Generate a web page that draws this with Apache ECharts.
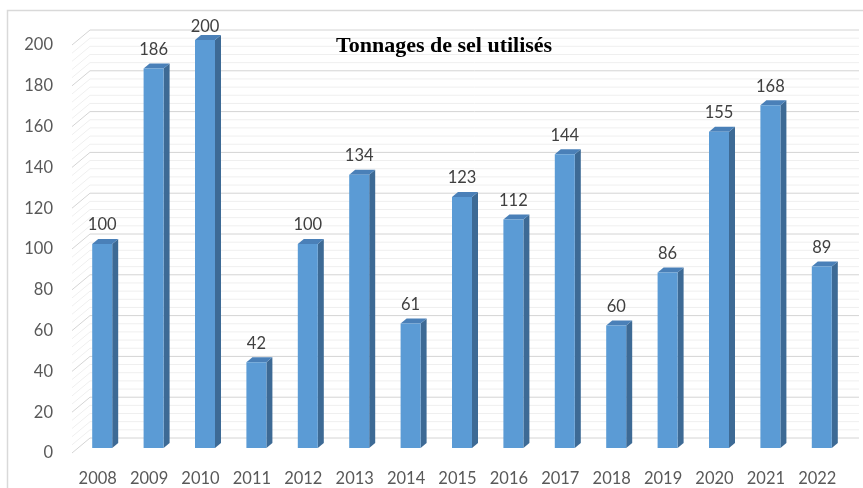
<!DOCTYPE html>
<html>
<head>
<meta charset="utf-8">
<script src="https://cdn.jsdelivr.net/npm/echarts@6/dist/echarts.min.js"></script>
<style>
  html, body { margin: 0; padding: 0; background: #fff; }
  #chart { width: 863px; height: 488px; }
</style>
</head>
<body>
<div id="chart"></div>
<script>
// data
const years = ['2008', '2009', '2010', '2011', '2012', '2013', '2014', '2015',
  '2016', '2017', '2018', '2019', '2020', '2021', '2022']
const tonnes = [100, 186, 200, 42, 100, 134, 61, 123, 112, 144, 60, 86, 155, 168, 89]
const yTicks = [0, 20, 40, 60, 80, 100, 120, 140, 160, 180, 200]
const minorStep = 4

// 3D look (pixel offsets)
const WALL_DX = 18, WALL_DY = -15   // back wall offset
const BAR_SHIFT_X = 4.5, BAR_SHIFT_Y = -5
const BAR_W = 20, DEPTH_X = 6, DEPTH_Y = -5

const gridValues = []
for (let v = 0; v <= yTicks[yTicks.length - 1]; v += minorStep) gridValues.push([0, v])

const chart = echarts.init(document.getElementById('chart'))

function renderGrid(params, api) {
  const cs = params.coordSys
  const y = api.coord([0, api.value(1)])[1]
  const major = api.value(1) % 20 === 0
  return {
    type: 'polyline',
    shape: {
      points: [[cs.x, y], [cs.x + WALL_DX, y + WALL_DY], [cs.x + cs.width + 16, y + WALL_DY]]
    },
    style: { stroke: major ? '#D4D4D4' : '#EFEFEF', lineWidth: 1, fill: null }
  }
}

function renderBar(params, api) {
  const top = api.coord([api.value(0), api.value(1)])
  const base = api.coord([api.value(0), 0])
  const cx = top[0] + BAR_SHIFT_X
  const x0 = cx - BAR_W / 2, x1 = cx + BAR_W / 2
  const yt = top[1] + BAR_SHIFT_Y, yb = base[1] + BAR_SHIFT_Y
  let ly = yt - 19
  if (ly < 27) ly = 27
  return {
    type: 'group',
    children: [
      { type: 'polygon', shape: { points: [[x1, yt], [x1 + DEPTH_X, yt + DEPTH_Y], [x1 + DEPTH_X, yb + DEPTH_Y], [x1, yb]] },
        style: { fill: '#3D6A95' } },
      { type: 'polygon', shape: { points: [[x0, yt], [x0 + DEPTH_X, yt + DEPTH_Y], [x1 + DEPTH_X, yt + DEPTH_Y], [x1, yt]] },
        style: { fill: '#4A80B8' } },
      { type: 'rect', shape: { x: x0, y: yt, width: BAR_W, height: yb - yt },
        style: { fill: '#5B9BD5' } },
      { type: 'text', x: cx, y: ly,
        style: { text: String(api.value(1)), fill: '#404040', font: '16.5px Lato', align: 'center', verticalAlign: 'middle' } }
    ]
  }
}

chart.setOption({
  animation: false,
  title: {
    text: 'Tonnages de sel utilisés',
    left: 331,
    top: 30,
    textStyle: { fontFamily: 'Liberation Serif', fontWeight: 'bold', fontSize: 22, color: '#000' }
  },
  graphic: [{
    type: 'rect',
    shape: { x: 7.5, y: 10.5, width: 900, height: 500 },
    style: { fill: null, stroke: '#D9D9D9', lineWidth: 1.5 },
    z: -10
  }],
  grid: { left: 72, right: 20, top: 45, bottom: 35 },
  xAxis: {
    type: 'category',
    data: years,
    axisLine: { show: false },
    axisTick: { show: false },
    axisLabel: { color: '#595959', fontFamily: 'Lato', fontSize: 16.5, margin: 17 }
  },
  yAxis: {
    type: 'value',
    min: 0,
    max: 200,
    interval: 20,
    splitLine: { show: false },
    axisLine: { show: false },
    axisTick: { show: false },
    axisLabel: { color: '#595959', fontFamily: 'Lato', fontSize: 16.5, margin: 19 }
  },
  series: [
    { type: 'custom', renderItem: renderGrid, data: gridValues, z: 1, silent: true },
    { type: 'custom', renderItem: renderBar, data: tonnes.map((v, i) => [i, v]), z: 2 }
  ]
})
</script>
</body>
</html>
